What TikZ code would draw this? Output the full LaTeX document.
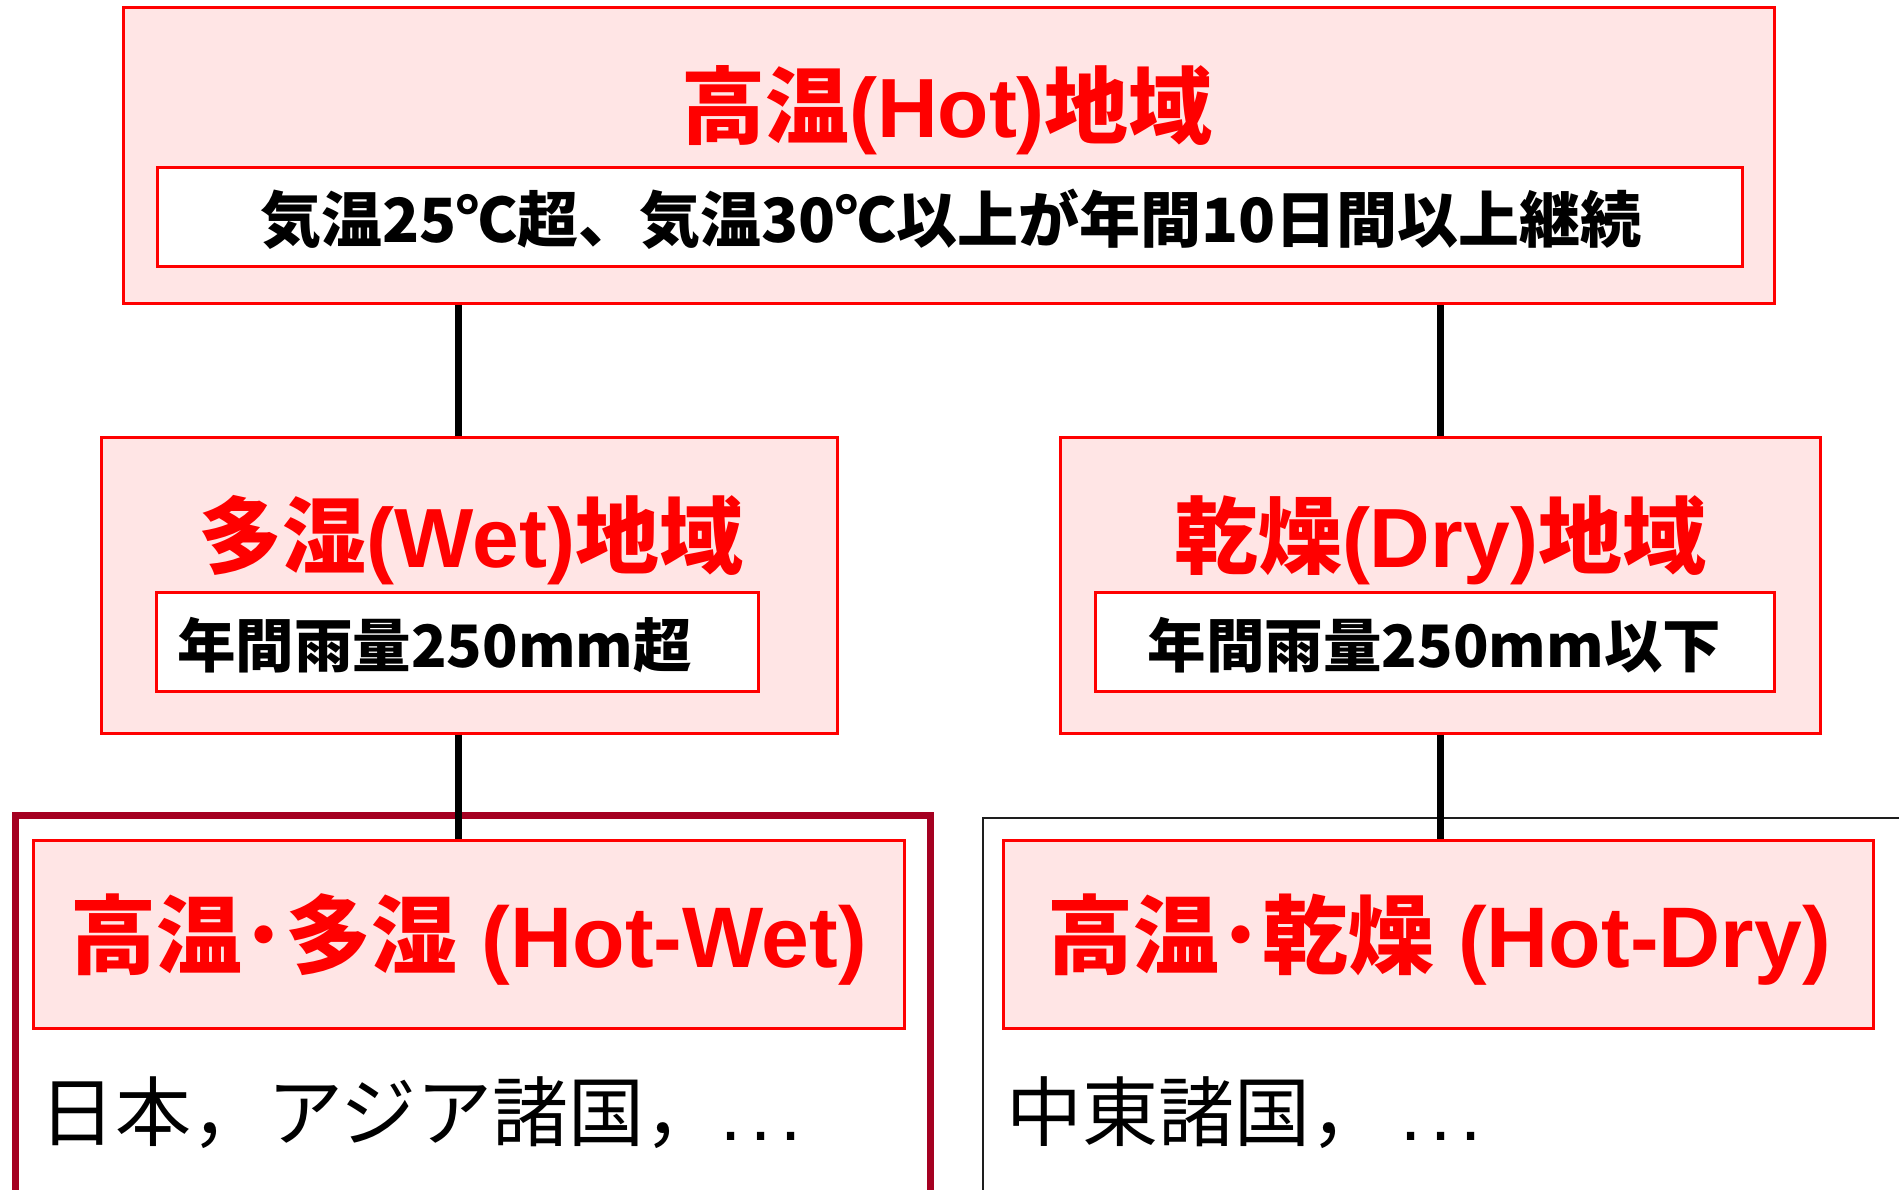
\documentclass[tikz,border=0pt]{standalone}
\usepackage{fontspec}
\setmainfont{Liberation Sans}
\newfontfamily\jp{Noto Sans CJK JP}
\definecolor{pinkfill}{RGB}{255,229,229}
\definecolor{boxred}{RGB}{255,0,0}
\definecolor{framered}{RGB}{165,0,33}
\definecolor{framegray}{RGB}{30,30,30}
\begin{document}
\begin{tikzpicture}[x=1pt,y=-1pt,
  box/.style={draw=boxred, fill=pinkfill, line width=3pt, inner sep=0pt},
  inbox/.style={draw=boxred, fill=white, line width=3pt, inner sep=0pt},
  titletext/.style={text=boxred, inner sep=0pt, font=\bfseries\fontsize{84}{84}\selectfont},
  bigtitletext/.style={text=boxred, inner sep=0pt, font=\bfseries\fontsize{86}{86}\selectfont},
  condtext/.style={text=black, inner sep=0pt, font=\jp\bfseries\fontsize{61}{61}\selectfont},
  raintext/.style={text=black, inner sep=0pt, font=\jp\bfseries\fontsize{58.5}{58.5}\selectfont},
  listtext/.style={text=black, inner sep=0pt, font=\fontsize{76}{76}\selectfont},
  conn/.style={draw=black, line width=7pt},
  frameA/.style={draw=framered, line width=7pt, inner sep=0pt},
  frameB/.style={draw=framegray, line width=2pt, inner sep=0pt}
]
\useasboundingbox (0,0) rectangle (1899,1190);
\fill[white] (0,0) rectangle (1899,1190);
\clip (0,0) rectangle (1899,1190);

% outer frames of the bottom row
\node[frameA, minimum width=915pt, minimum height=435pt] (hwframe) at (472.5,1032.5) {};
\node[frameB, minimum width=967pt, minimum height=432pt] (hdframe) at (1466.5,1034) {};

% connector positions
\coordinate (cw) at (458,0);
\coordinate (cd) at (1440,0);

% boxes
\node[box, minimum width=1651pt, minimum height=296pt] (top) at (948.5,156) {};
\node[inbox, minimum width=1585pt, minimum height=99pt] (topin) at (949.5,217.5) {};
\node[box, minimum width=736pt, minimum height=296pt] (wet) at (469,585) {};
\node[inbox, minimum width=602pt, minimum height=99pt] (wetin) at (457,641.5) {};
\node[box, minimum width=760pt, minimum height=296pt] (dry) at (1440,585) {};
\node[inbox, minimum width=679pt, minimum height=99pt] (dryin) at (1434.5,641.5) {};
\node[box, minimum width=871pt, minimum height=188pt] (hw) at (468.5,934) {};
\node[box, minimum width=870pt, minimum height=188pt] (hd) at (1438,934) {};

% connectors
\draw[conn] (top.south -| cw) -- (wet.north -| cw);
\draw[conn] (top.south -| cd) -- (dry.north -| cd);
\draw[conn] (wet.south -| cw) -- (hw.north -| cw);
\draw[conn] (dry.south -| cd) -- (hd.north -| cd);

% texts
\node[titletext, anchor=base] (toptitle) at (947,138) {{\jp 高温}(Hot){\jp 地域}};
\node[condtext, anchor=base] (toptext) at (951,243) {気温25℃超、気温30℃以上が年間10日間以上継続};
\node[titletext, anchor=base] (wettitle) at (471,567) {{\jp 多湿}(Wet){\jp 地域}};
\node[raintext, anchor=base west] (wettext) at (177,667) {年間雨量250mm超};
\node[titletext, anchor=base] (drytitle) at (1440,567) {{\jp 乾燥}(Dry){\jp 地域}};
\node[raintext, anchor=base] (drytext) at (1434.5,667) {年間雨量250mm以下};
\node[bigtitletext, anchor=base] (hwtitle) at (469,967) {{\jp 高温･多湿} (Hot-Wet)};
\node[bigtitletext, anchor=base] (hdtitle) at (1439,967) {{\jp 高温･乾燥} (Hot-Dry)};
\node[listtext, anchor=base west] (hwlist) at (39,1140) {{\jp 日本，アジア諸国，}.\kern9pt.\kern9pt.};
\node[listtext, anchor=base west] (hdlist) at (1006,1140) {{\jp 中東諸国，}\kern14pt.\kern9pt.\kern9pt.};
\end{tikzpicture}
\end{document}
